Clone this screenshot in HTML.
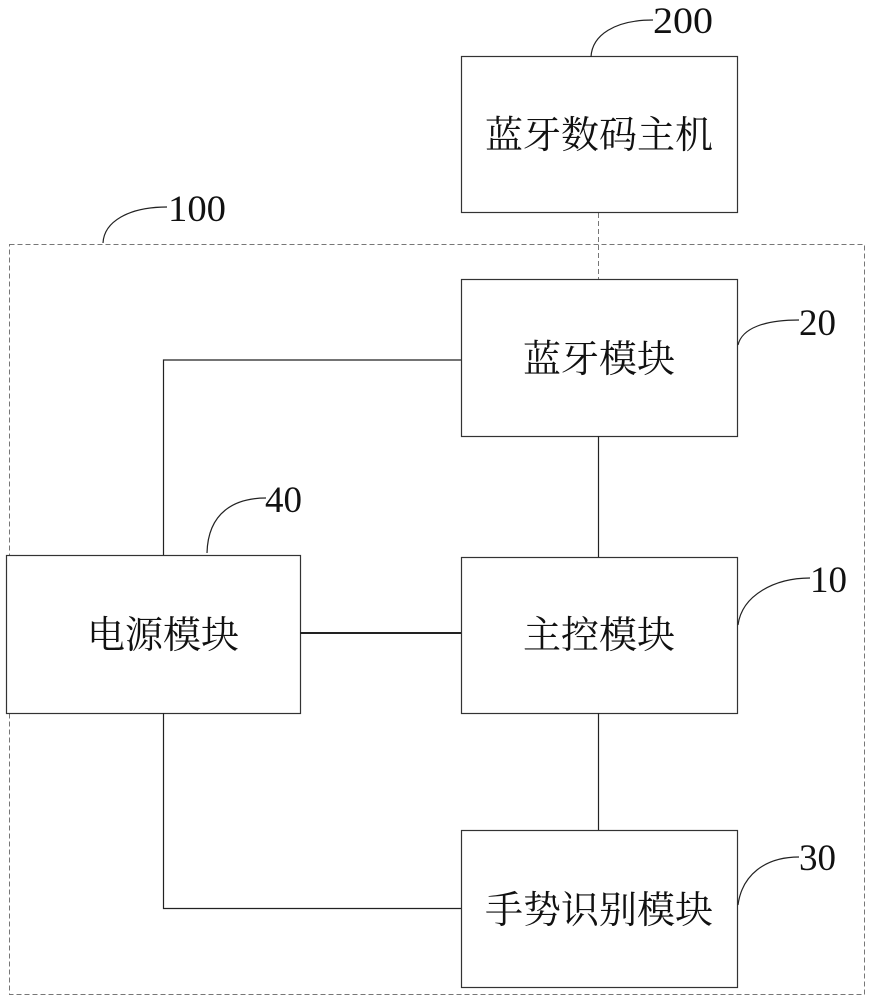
<!DOCTYPE html>
<html><head><meta charset="utf-8"><style>
html,body{margin:0;padding:0;background:#fff;}
svg text{font-family:"Liberation Serif","Noto Serif CJK SC",serif;fill:#111;}
</style></head><body>
<svg width="875" height="1000" viewBox="0 0 875 1000" xmlns="http://www.w3.org/2000/svg">
<rect x="9.5" y="244.5" width="855" height="750" fill="none" stroke="#777" stroke-width="1" stroke-dasharray="5,3"/>
<line x1="598.5" y1="213" x2="598.5" y2="279" stroke="#777" stroke-dasharray="5,3"/>
<g fill="#fff" stroke="#333" stroke-width="1.2">
<rect x="461.5" y="56.5" width="276" height="156"/>
<rect x="461.5" y="279.5" width="276" height="157"/>
<rect x="461.5" y="557.5" width="276" height="156"/>
<rect x="461.5" y="830.5" width="276" height="157"/>
<rect x="6.5" y="555.5" width="294" height="158"/>
</g>
<g fill="none" stroke="#222" stroke-width="1.2">
<polyline points="461,360 163.5,360 163.5,555"/>
<polyline points="163.5,713 163.5,908.5 461,908.5"/>
<line x1="598.5" y1="436" x2="598.5" y2="557"/>
<line x1="598.5" y1="713" x2="598.5" y2="830"/>
<line x1="300" y1="633" x2="461" y2="633" stroke-width="2"/>
<path d="M591,57 C592,35 615,20 653,20"/>
<path d="M103,243 C104,222 128,207 167,207"/>
<path d="M738,345 C742,328 765,320 799,320"/>
<path d="M207,553 C208,512 235,498 266,498"/>
<path d="M738,625 C742,595 775,578 810,578"/>
<path d="M738,905 C742,875 765,857 799,857"/>
</g>
<g font-size="37">
<text x="653" y="33" textLength="60" lengthAdjust="spacingAndGlyphs">200</text>
<text x="168" y="221" textLength="58" lengthAdjust="spacingAndGlyphs">100</text>
<text x="799" y="335">20</text>
<text x="265" y="512">40</text>
<text x="810" y="592">10</text>
<text x="799" y="870">30</text>
</g>
<g font-size="38" text-anchor="middle">
<text x="599" y="148">蓝牙数码主机</text>
<text x="599" y="372">蓝牙模块</text>
<text x="599" y="648">主控模块</text>
<text x="599" y="923">手势识别模块</text>
<text x="163" y="648">电源模块</text>
</g>
</svg>
</body></html>
